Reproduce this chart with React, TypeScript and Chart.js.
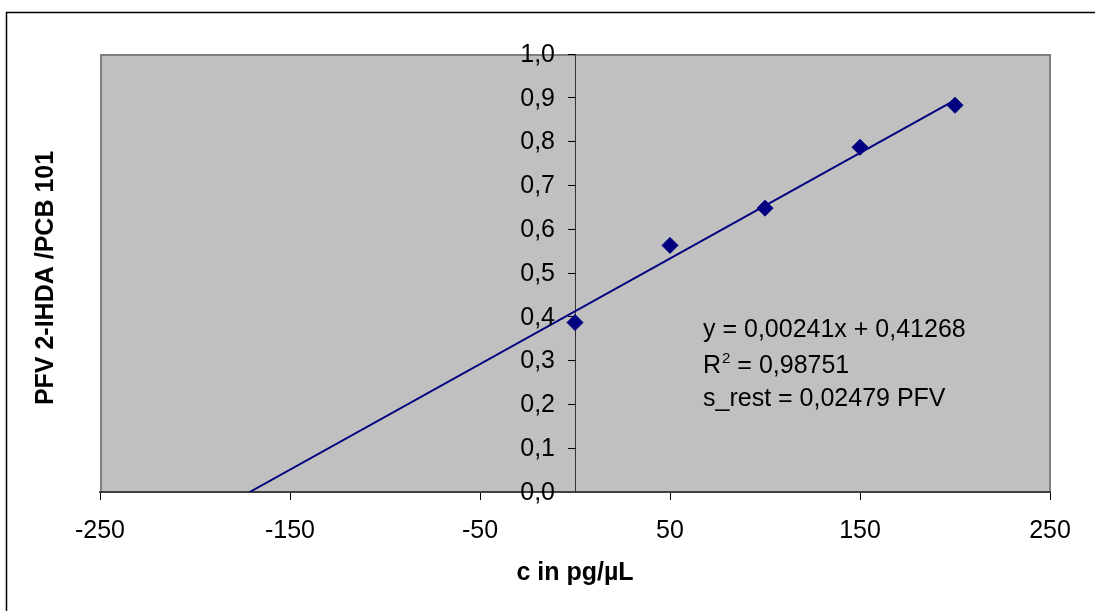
import React, { useEffect, useRef } from "react";
import { Chart, registerables } from "chart.js";

Chart.register(...registerables);

// Data
const concentrations = [0, 50, 100, 150, 200];
const pfvRatios = [0.387, 0.563, 0.648, 0.787, 0.883];
const trendX = [-171.2, 200];
const trendY = [0, 0.8947];
const xTickValues = [-250, -150, -50, 50, 150, 250];
const yTickValues = [0, 0.1, 0.2, 0.3, 0.4, 0.5, 0.6, 0.7, 0.8, 0.9, 1.0];
const equationLines = ["y = 0,00241x + 0,41268", "R", " = 0,98751", "s_rest = 0,02479 PFV"];
const xTitle = "c in pg/µL";
const yTitle = "PFV 2-IHDA /PCB 101";

const FONT = "'Liberation Sans', Arial, sans-serif";
const MARK = "#000080";
const fmtY = (v: number) => Number(v).toFixed(1).replace(".", ",");

const decorPlugin = {
  id: "decor",
  afterLayout(chart: any) {
    const s = chart.scales.yTitle;
    if (s) {
      s.top += 5;
      s.bottom += 5;
    }
  },
  beforeDraw(chart: any) {
    const { ctx, chartArea } = chart;
    ctx.save();
    ctx.fillStyle = "#ffffff";
    ctx.fillRect(0, 0, chart.width, chart.height);
    ctx.strokeStyle = "#000000";
    ctx.lineWidth = 1.5;
    ctx.strokeRect(6.5, 12.5, chart.width + 20, chart.height + 20);
    ctx.fillStyle = "#C0C0C0";
    ctx.fillRect(chartArea.left, chartArea.top, chartArea.right - chartArea.left, chartArea.bottom - chartArea.top);
    ctx.strokeStyle = "#808080";
    ctx.lineWidth = 2;
    ctx.strokeRect(chartArea.left + 1, chartArea.top + 1, chartArea.right - chartArea.left - 1, chartArea.bottom - chartArea.top - 1);
    ctx.restore();
  },
  afterDraw(chart: any) {
    const { ctx } = chart;
    const xs = chart.scales.x;
    const ys = chart.scales.y;
    ctx.save();
    ctx.fillStyle = "#000000";
    // y tick labels, placed through the scales, left of the axis at x = 0
    ctx.font = `25px ${FONT}`;
    ctx.textAlign = "right";
    ctx.textBaseline = "middle";
    const axisX = xs.getPixelForValue(0);
    ys.ticks.forEach((t: any) => {
      ctx.fillText(fmtY(t.value), axisX - 20, ys.getPixelForValue(t.value) + 1);
    });
    // regression annotation
    ctx.textBaseline = "alphabetic";
    ctx.textAlign = "left";
    ctx.font = `25px ${FONT}`;
    ctx.fillText(equationLines[0], 703, 337);
    ctx.fillText(equationLines[1], 703, 373);
    const rw = ctx.measureText(equationLines[1]).width;
    ctx.font = `15px ${FONT}`;
    ctx.fillText("2", 703 + rw + 1, 363);
    const sw = ctx.measureText("2").width;
    ctx.font = `25px ${FONT}`;
    ctx.fillText(equationLines[2], 703 + rw + 1 + sw, 373);
    ctx.fillText(equationLines[3], 703, 406);
    ctx.restore();
  },
};

export default function App() {
  const ref = useRef<HTMLCanvasElement | null>(null);

  useEffect(() => {
    document.body.style.margin = "0";
    const canvas = ref.current;
    if (!canvas) return;
    const chart = new Chart(canvas, {
      type: "scatter",
      data: {
        datasets: [
          {
            label: "trend",
            data: trendX.map((x, i) => ({ x, y: trendY[i] })),
            showLine: true,
            borderColor: MARK,
            borderWidth: 2,
            pointRadius: 0,
            fill: false,
          },
          {
            label: "PFV",
            data: concentrations.map((x, i) => ({ x, y: pfvRatios[i] })),
            pointStyle: "rectRot",
            pointRadius: 8,
            pointBackgroundColor: MARK,
            pointBorderColor: MARK,
            pointBorderWidth: 1,
            showLine: false,
          },
        ],
      },
      options: {
        responsive: false,
        animation: false,
        layout: { padding: { left: 0, top: 54, right: 45, bottom: 0 } },
        plugins: { legend: { display: false }, tooltip: { enabled: false } },
        scales: {
          x: {
            type: "linear",
            position: "bottom",
            min: -250,
            max: 250,
            afterBuildTicks: (s: any) => {
              s.ticks = xTickValues.map((v) => ({ value: v }));
            },
            afterFit: (s: any) => {
              s.height = 119;
            },
            grid: { drawOnChartArea: false, drawTicks: true, tickLength: 8, color: "#000000", lineWidth: 1 },
            border: { display: true, color: "#404040", width: 2 },
            ticks: {
              autoSkip: false,
              maxRotation: 0,
              padding: 16,
              color: "#000000",
              font: { family: FONT, size: 25 },
              callback: (v: any) => String(v),
            },
            title: {
              display: true,
              text: xTitle,
              color: "#000000",
              font: { family: FONT, size: 25, weight: "bold" },
              padding: { top: 0, bottom: 23 },
            },
          },
          y: {
            type: "linear",
            position: { x: 0 } as any,
            min: 0,
            max: 1,
            afterBuildTicks: (s: any) => {
              s.ticks = yTickValues.map((v) => ({ value: v }));
            },
            grid: { drawOnChartArea: false, drawTicks: true, tickLength: 7, color: "#000000", lineWidth: 1 },
            border: { display: true, color: "#333333", width: 1 },
            ticks: { display: false, autoSkip: false },
          },
          yTitle: {
            type: "linear",
            axis: "y",
            position: "left",
            min: 0,
            max: 1,
            afterFit: (s: any) => {
              s.width = 100;
            },
            grid: { display: false },
            border: { display: false },
            ticks: { display: false },
            title: {
              display: true,
              text: yTitle,
              color: "#000000",
              font: { family: FONT, size: 25, weight: "bold" },
              padding: { top: 31, bottom: 0 },
            },
          },
        } as any,
      },
      plugins: [decorPlugin],
    } as any);
    return () => chart.destroy();
  }, []);

  return (
    <div style={{ position: "fixed", left: 0, top: 0, width: 1095, height: 611 }}>
      <canvas ref={ref} width={1095} height={611} style={{ display: "block" }} />
    </div>
  );
}
